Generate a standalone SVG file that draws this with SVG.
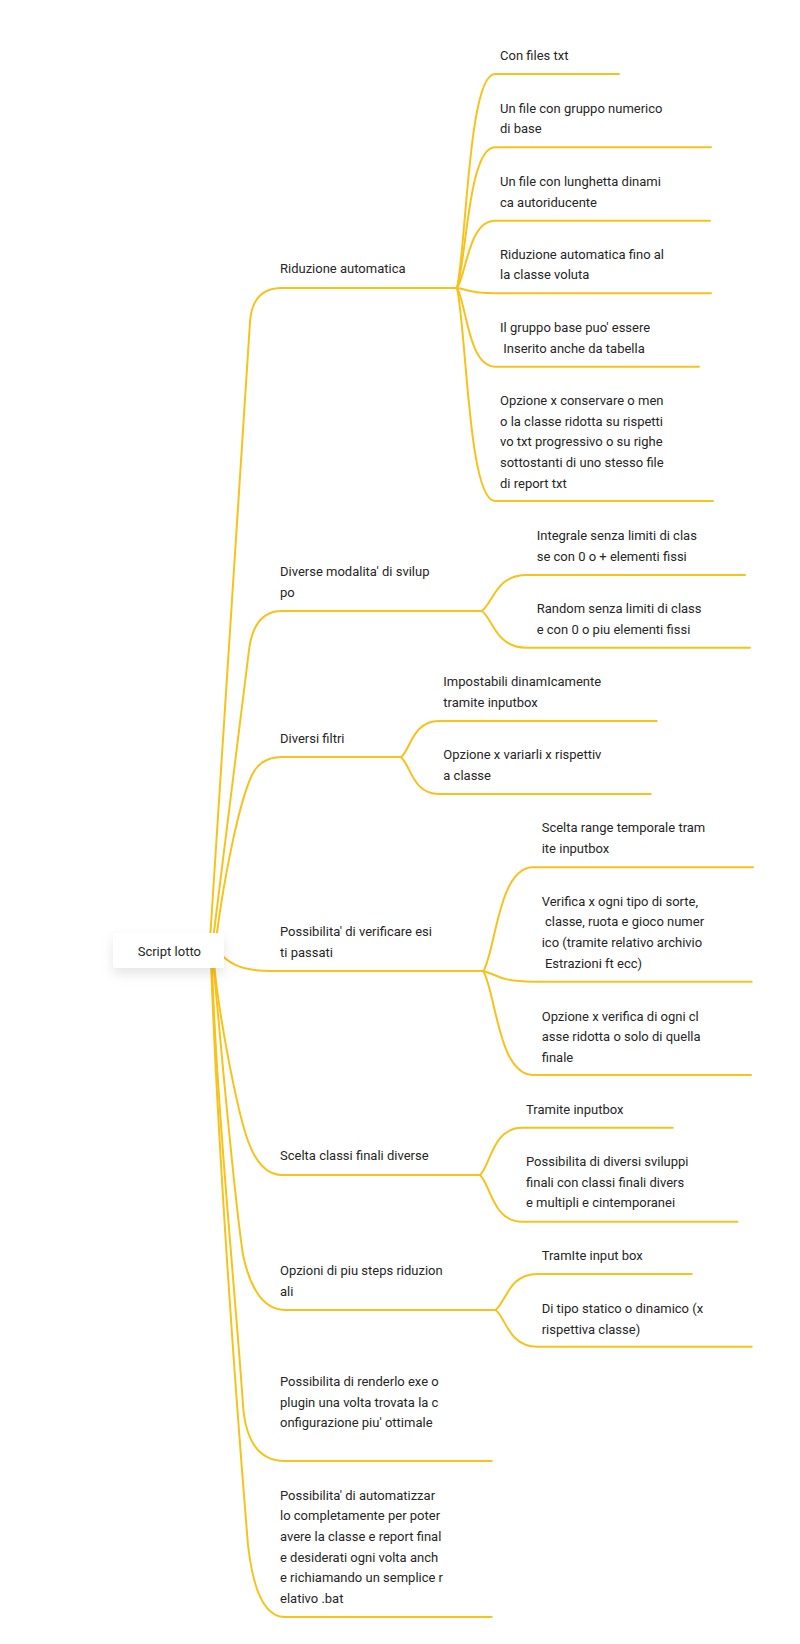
<svg xmlns="http://www.w3.org/2000/svg" width="800" height="1644" viewBox="0 0 800 1644">
<style>
.c{fill:none;stroke:#F8C21C;stroke-width:2;stroke-linecap:round;stroke-linejoin:round}
text{font-family:Roboto,"Liberation Sans",sans-serif;font-size:13px;fill:#262626}
</style>
<defs>
<filter id="sh" x="-30%" y="-50%" width="160%" height="220%">
<feDropShadow dx="0" dy="6" stdDeviation="6" flood-color="#000" flood-opacity="0.10"/>
</filter>
</defs>
<rect width="800" height="1644" fill="#fff"/>
<g id="connectors">
<path class="c" d="M210,940 L250,322 Q252.2,288 282,288 H457"/>
<path class="c" d="M213,940 L249,650 Q253.9,611 282,611 H481.7"/>
<path class="c" d="M216,940 C225,870 240,800 252,775 Q260.6,757 282,757 H401"/>
<path class="c" d="M217,951 C228,962 238,971 272,971 H483.3"/>
<path class="c" d="M214,962 C218,1010 235,1100 246,1135 Q258.6,1175 282,1175 H480"/>
<path class="c" d="M213,962 C220,1030 232,1180 243,1255 Q255,1310 285,1310 H495.5"/>
<path class="c" d="M212,962 C216,1100 236,1300 243,1405 Q247,1461 285,1461 H491.7"/>
<path class="c" d="M211,962 C218,1150 236,1400 248,1545 Q256,1617 285,1617 H491.7"/>
<path class="c" d="M457,288 C466.5,245.2 468.4,74 495,74 H619"/>
<path class="c" d="M457,288 C466.5,259.9 468.4,147.3 495,147.3 H711"/>
<path class="c" d="M457,288 C466.5,274.5 468.4,220.7 495,220.7 H710"/>
<path class="c" d="M457,288 C466.5,289 468.4,293.3 495,293.3 H711"/>
<path class="c" d="M457,288 C466.5,303.7 468.4,366.7 495,366.7 H699"/>
<path class="c" d="M457,288 C466.5,330.6 468.4,501 495,501 H713"/>
<path class="c" d="M481.7,611 C493,603.8 495.2,575 526.7,575 H745"/>
<path class="c" d="M481.7,611 C493,618.3 495.2,647.7 526.7,647.7 H750"/>
<path class="c" d="M401,757.3 C410.5,750 412.4,721 439,721 H656.7"/>
<path class="c" d="M401,757.3 C410.5,764.6 412.4,794 439,794 H650.7"/>
<path class="c" d="M483.3,971.3 C495.8,950.5 498.3,867.3 533,867.3 H753"/>
<path class="c" d="M483.3,971.3 C495.8,973.4 498.3,981.7 533,981.7 H751.7"/>
<path class="c" d="M483.3,971.3 C495.8,992 498.3,1075 533,1075 H751"/>
<path class="c" d="M480,1175 C490.5,1165.5 492.6,1127.7 522,1127.7 H672.7"/>
<path class="c" d="M480,1175 C490.5,1184.3 492.6,1221.7 522,1221.7 H737.3"/>
<path class="c" d="M495.5,1310 C506,1302.8 508.1,1274 537.5,1274 H691.7"/>
<path class="c" d="M495.5,1310 C506,1317.3 508.1,1346.7 537.5,1346.7 H751.7"/>
</g>
<g id="root">
<rect x="113" y="933" width="111" height="35" rx="3" fill="#fff" filter="url(#sh)"/>
<text x="137.7" y="955.5">Script lotto</text>
</g>
<g id="n1"><text x="280" y="273">Riduzione automatica</text></g>
<g id="n1a"><text x="500" y="60">Con files txt</text></g>
<g id="n1b"><text><tspan x="500" y="112.7">Un file con gruppo numerico</tspan><tspan x="500" y="133.4">di base</tspan></text></g>
<g id="n1c"><text><tspan x="500" y="186">Un file con lunghetta dinami</tspan><tspan x="500" y="206.7">ca autoriducente</tspan></text></g>
<g id="n1d"><text><tspan x="500" y="258.6">Riduzione automatica fino al</tspan><tspan x="500" y="279.3">la classe voluta</tspan></text></g>
<g id="n1e"><text xml:space="preserve"><tspan x="500" y="331.8">Il gruppo base puo' essere</tspan><tspan x="500" y="352.5"> Inserito anche da tabella</tspan></text></g>
<g id="n1f"><text><tspan x="500" y="404.8">Opzione x conservare o men</tspan><tspan x="500" y="425.5">o la classe ridotta su rispetti</tspan><tspan x="500" y="446.2">vo txt progressivo o su righe</tspan><tspan x="500" y="466.9">sottostanti di uno stesso file</tspan><tspan x="500" y="487.6">di report txt</tspan></text></g>
<g id="n2"><text><tspan x="280" y="576">Diverse modalita' di svilup</tspan><tspan x="280" y="596.7">po</tspan></text></g>
<g id="n2a"><text><tspan x="536.7" y="540">Integrale senza limiti di clas</tspan><tspan x="536.7" y="560.7">se con 0 o + elementi fissi</tspan></text></g>
<g id="n2b"><text><tspan x="536.7" y="612.8">Random senza limiti di class</tspan><tspan x="536.7" y="633.5">e con 0 o piu elementi fissi</tspan></text></g>
<g id="n3"><text x="280" y="742.6">Diversi filtri</text></g>
<g id="n3a"><text><tspan x="443.3" y="686">Impostabili dinamIcamente</tspan><tspan x="443.3" y="706.7">tramite inputbox</tspan></text></g>
<g id="n3b"><text><tspan x="443.3" y="759.4">Opzione x variarli x rispettiv</tspan><tspan x="443.3" y="780.1">a classe</tspan></text></g>
<g id="n4"><text><tspan x="280" y="936.2">Possibilita' di verificare esi</tspan><tspan x="280" y="956.9">ti passati</tspan></text></g>
<g id="n4a"><text><tspan x="541.7" y="832.3">Scelta range temporale tram</tspan><tspan x="541.7" y="853">ite inputbox</tspan></text></g>
<g id="n4b"><text xml:space="preserve"><tspan x="541.7" y="905.5">Verifica x ogni tipo di sorte,</tspan><tspan x="541.7" y="926.2"> classe, ruota e gioco numer</tspan><tspan x="541.7" y="946.9">ico (tramite relativo archivio</tspan><tspan x="541.7" y="967.6"> Estrazioni ft ecc)</tspan></text></g>
<g id="n4c"><text><tspan x="541.7" y="1020.5">Opzione x verifica di ogni cl</tspan><tspan x="541.7" y="1041.2">asse ridotta o solo di quella</tspan><tspan x="541.7" y="1061.9">finale</tspan></text></g>
<g id="n5"><text x="280" y="1160.3">Scelta classi finali diverse</text></g>
<g id="n5a"><text x="526" y="1113.5">Tramite inputbox</text></g>
<g id="n5b"><text><tspan x="526" y="1166">Possibilita di diversi sviluppi</tspan><tspan x="526" y="1186.7">finali con classi finali divers</tspan><tspan x="526" y="1207.4">e multipli e cintemporanei</tspan></text></g>
<g id="n6"><text><tspan x="280" y="1275.4">Opzioni di piu steps riduzion</tspan><tspan x="280" y="1296.1">ali</tspan></text></g>
<g id="n6a"><text x="541.7" y="1259.5">TramIte input box</text></g>
<g id="n6b"><text><tspan x="541.7" y="1312.8">Di tipo statico o dinamico (x</tspan><tspan x="541.7" y="1333.5">rispettiva classe)</tspan></text></g>
<g id="n7"><text><tspan x="280" y="1386">Possibilita di renderlo exe o</tspan><tspan x="280" y="1406.7">plugin una volta trovata la c</tspan><tspan x="280" y="1427.4">onfigurazione piu' ottimale</tspan></text></g>
<g id="n8"><text><tspan x="280" y="1499.5">Possibilita' di automatizzar</tspan><tspan x="280" y="1520.2">lo completamente per poter</tspan><tspan x="280" y="1540.9">avere la classe e report final</tspan><tspan x="280" y="1561.6">e desiderati ogni volta anch</tspan><tspan x="280" y="1582.3">e richiamando un semplice r</tspan><tspan x="280" y="1603">elativo .bat</tspan></text></g>
</svg>
